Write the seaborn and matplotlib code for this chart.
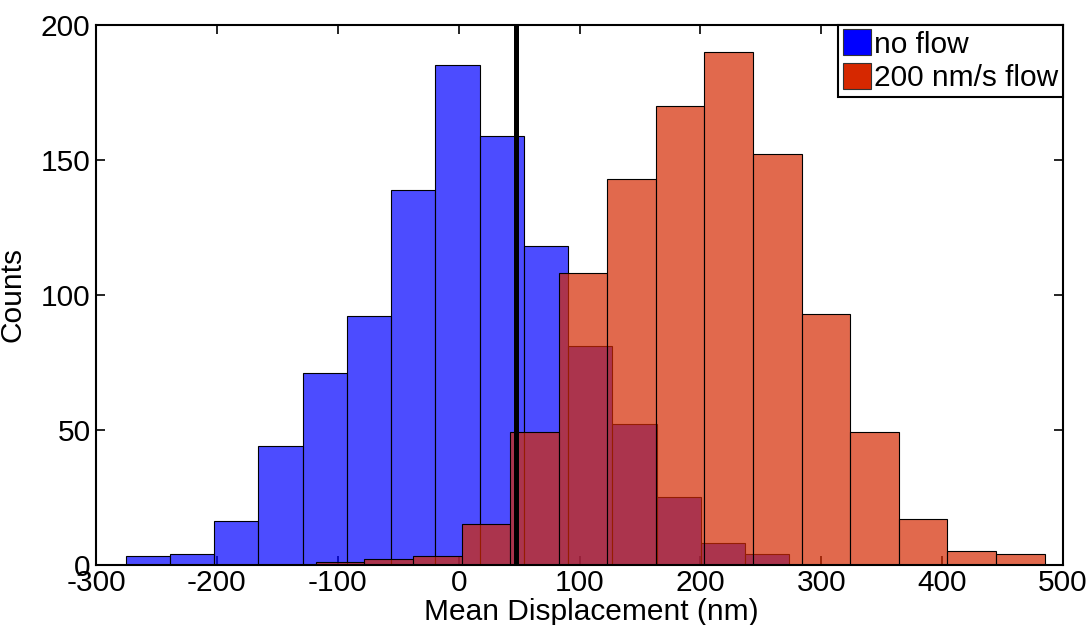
import numpy as np
import pandas as pd
import matplotlib
matplotlib.use("Agg")
import matplotlib.pyplot as plt
from matplotlib.patches import Patch
import seaborn as sns

# ---- data ----
noflow_first_edge = -275.4
noflow_bin_width = 36.6
noflow_counts = [3, 4, 16, 44, 71, 92, 139, 185, 159, 118, 81, 52, 25, 8, 4]

flow_first_edge = -118.2
flow_bin_width = 40.2
flow_counts = [1, 2, 3, 15, 49, 108, 143, 170, 190, 152, 93, 49, 17, 5, 4]

marker_x = 47.6
series_labels = ["no flow", "200 nm/s flow"]
x_ticks = [-300, -200, -100, 0, 100, 200, 300, 400, 500]
y_ticks = [0, 50, 100, 150, 200]

noflow_edges = noflow_first_edge + noflow_bin_width * np.arange(len(noflow_counts) + 1)
flow_edges = flow_first_edge + flow_bin_width * np.arange(len(flow_counts) + 1)
noflow_df = pd.DataFrame({"x": (noflow_edges[:-1] + noflow_edges[1:]) / 2, "w": noflow_counts})
flow_df = pd.DataFrame({"x": (flow_edges[:-1] + flow_edges[1:]) / 2, "w": flow_counts})

sns.set_style("ticks")
plt.rcParams["font.family"] = ["Liberation Sans", "DejaVu Sans"]
plt.rcParams["font.size"] = 21.5
plt.rcParams["text.color"] = "black"
plt.rcParams["axes.labelcolor"] = "black"
plt.rcParams["axes.unicode_minus"] = False

blue = (0.0, 0.0, 1.0)
red = (213 / 255, 42 / 255, 2 / 255)

fig = plt.figure(figsize=(10.9, 6.25), dpi=100)
ax = fig.add_axes([96 / 1090, 60.5 / 625, 967 / 1090, 539.5 / 625])

sns.histplot(data=noflow_df, x="x", weights="w",
             binwidth=noflow_bin_width,
             binrange=(float(noflow_edges[0]), float(noflow_edges[-1])), ax=ax,
             color=blue, alpha=0.7, edgecolor="black", linewidth=0.8, stat="count")
sns.histplot(data=flow_df, x="x", weights="w",
             binwidth=flow_bin_width,
             binrange=(float(flow_edges[0]), float(flow_edges[-1])), ax=ax,
             color=red, alpha=0.7, edgecolor="black", linewidth=0.8, stat="count")

ax.axvline(marker_x, color="black", linewidth=3.6, zorder=5)

ax.set_xlim(-300, 500)
ax.set_ylim(0, 200)
ax.set_xticks(x_ticks)
ax.set_yticks(y_ticks)
ax.tick_params(direction="in", length=6.5, width=1.2, top=True, right=True,
               labelsize=21.5, colors="black")
ax.tick_params(axis="x", pad=3)
ax.tick_params(axis="y", pad=4)
for s in ax.spines.values():
    s.set_visible(True)
    s.set_linewidth(1.5)
    s.set_color("black")

ax.set_xlabel("Mean Displacement (nm)", fontsize=21.5, color="black")
ax.set_ylabel("Counts", fontsize=21.5, color="black")
ax.xaxis.set_label_coords(0.512, -0.062)
ax.xaxis.label.set_va("top")
ax.yaxis.set_label_coords(-0.072, 0.5)

handles = [Patch(facecolor=blue, edgecolor="#333333", linewidth=0.8),
           Patch(facecolor=(214 / 255, 40 / 255, 0.0), edgecolor="#333333", linewidth=0.8)]
leg = ax.legend(handles, series_labels, loc="upper right", bbox_to_anchor=(1.0, 1.0),
                borderaxespad=0.0, frameon=True, fancybox=False, fontsize=21.5,
                handlelength=0.95, handleheight=0.95, handletextpad=0.1,
                borderpad=0.15, labelspacing=0.15)
leg.get_frame().set_edgecolor("black")
leg.get_frame().set_linewidth(1.5)
leg.get_frame().set_alpha(1.0)
for t in leg.get_texts():
    t.set_color("black")

fig.savefig("out.png", dpi=100)
